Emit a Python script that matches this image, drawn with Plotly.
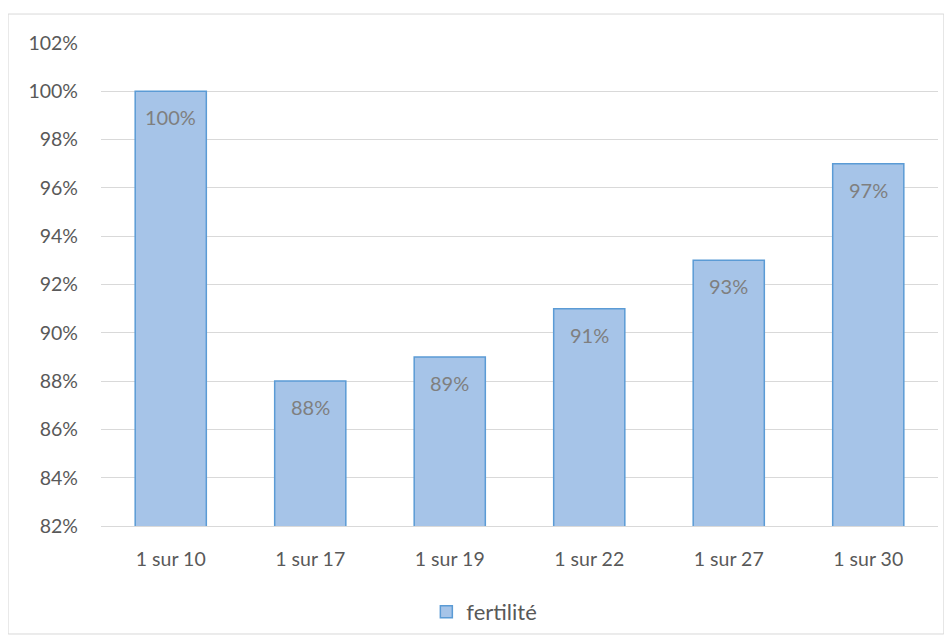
import plotly.graph_objects as go

categories = ["1 sur 10", "1 sur 17", "1 sur 19", "1 sur 22", "1 sur 27", "1 sur 30"]
fertilite = [1.00, 0.88, 0.89, 0.91, 0.93, 0.97]
y_ticks = [0.82, 0.84, 0.86, 0.88, 0.90, 0.92, 0.94, 0.96, 0.98, 1.00, 1.02]

FONT = "Lato, Open Sans, sans-serif"
GREY = "#595959"

fig = go.Figure()
fig.add_trace(
    go.Bar(
        x=categories,
        y=fertilite,
        name="fertilité",
        marker=dict(color="#A6C4E8", line=dict(color="#5B9BD5", width=1.5)),
        hoverinfo="x+y",
    )
)

# étiquettes de données dans le haut des barres
for cat, val in zip(categories, fertilite):
    fig.add_annotation(
        x=cat, y=val, text=f"{val:.0%}", showarrow=False,
        yanchor="middle", yshift=-26,
        font=dict(family=FONT, size=20, color="#7F7F7F"),
    )

# cadre extérieur du graphique
fig.add_shape(
    type="rect", xref="paper", yref="paper",
    x0=-0.111, x1=1.007, y0=-0.2236, y1=1.060,
    line=dict(color="#D9D9D9", width=1), layer="below",
)

fig.update_layout(
    width=952, height=641,
    margin=dict(l=93, r=22, t=35, b=123),
    plot_bgcolor="white", paper_bgcolor="white",
    bargap=0.49,
    showlegend=True,
    legend=dict(
        orientation="h", x=0.458, xanchor="center", y=-0.178, yanchor="middle",
        font=dict(family=FONT, size=22, color=GREY),
    ),
    font=dict(family=FONT, color=GREY),
)
fig.update_yaxes(
    range=[0.82, 1.02], tickvals=y_ticks, tickformat=".0%",
    showgrid=True, gridcolor="#D9D9D9", gridwidth=1,
    zeroline=False, showline=False, ticks="", ticklabelstandoff=22,
    tickfont=dict(family=FONT, size=19.5, color=GREY),
)
fig.update_xaxes(
    showline=True, linecolor="#D9D9D9", linewidth=1, ticks="",
    tickfont=dict(family=FONT, size=19.5, color=GREY), ticklabelstandoff=16,
)

fig.write_html("out.html")
